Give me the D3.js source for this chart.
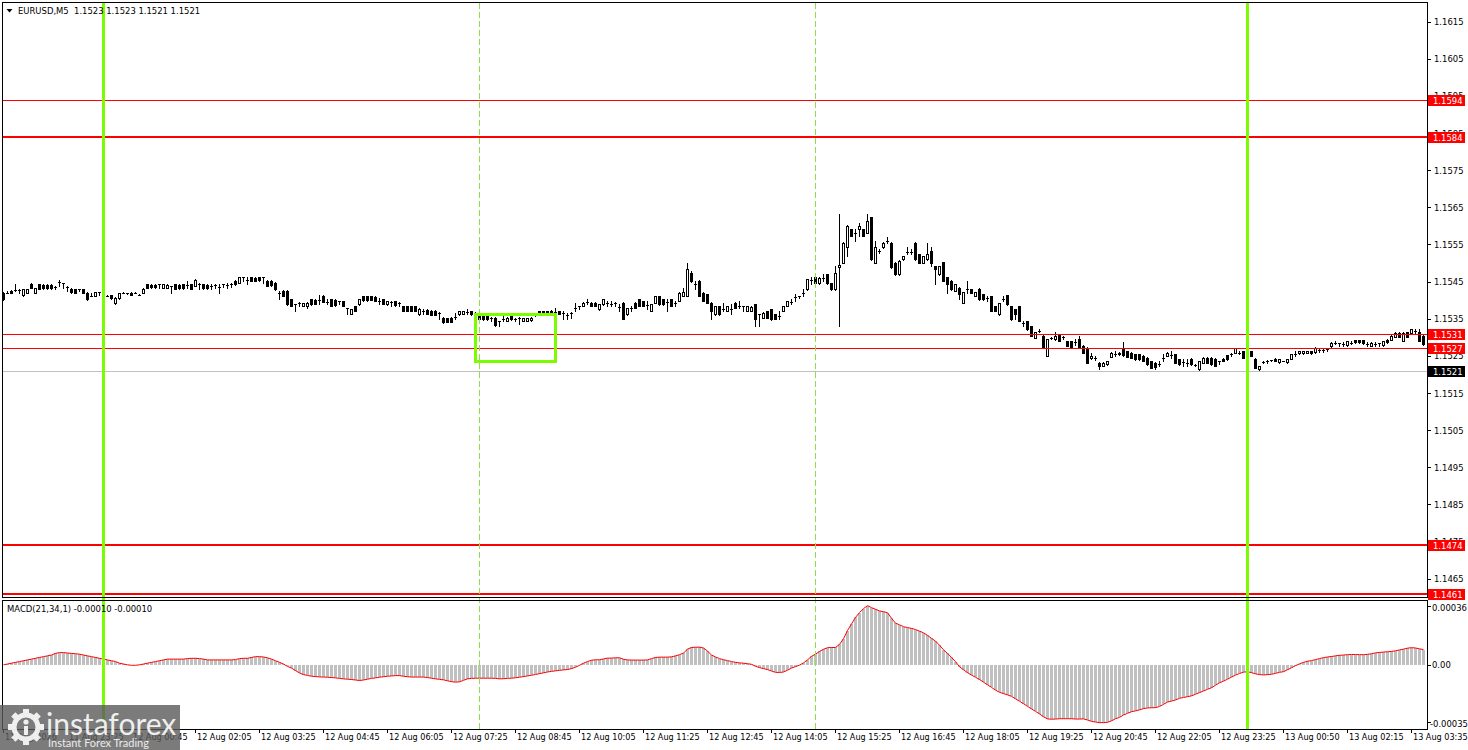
<!DOCTYPE html>
<html><head><meta charset="utf-8">
<script src="https://cdn.jsdelivr.net/npm/d3@7"></script>
<style>
html,body{margin:0;padding:0;background:#fff;overflow:hidden;}
svg{display:block;}
</style></head><body>
<svg id="chart" width="1468" height="750"></svg>
<script>
// ---------- DATA (EURUSD M5, bars 11 Aug 22:05 .. 13 Aug 03:50) ----------
const open = [
1.15420,1.15419,1.15425,1.15427,1.15428,1.15415,1.15420,1.15443,1.15420,1.15443,
1.15441,1.15442,1.15442,1.15435,1.15450,1.15445,1.15436,1.15431,1.15430,1.15429,
1.15429,1.15420,1.15410,1.15412,1.15422,1.15413,1.15412,1.15413,1.15392,1.15405,
1.15420,1.15418,1.15420,1.15420,1.15415,1.15419,1.15443,1.15442,1.15442,1.15443,
1.15434,1.15434,1.15438,1.15443,1.15442,1.15443,1.15440,1.15443,1.15438,1.15444,
1.15443,1.15442,1.15438,1.15442,1.15435,1.15443,1.15440,1.15444,1.15452,1.15447,
1.15461,1.15452,1.15461,1.15460,1.15461,1.15461,1.15452,1.15451,1.15447,1.15420,
1.15424,1.15425,1.15402,1.15389,1.15393,1.15385,1.15384,1.15402,1.15401,1.15400,
1.15412,1.15396,1.15402,1.15400,1.15398,1.15398,1.15379,1.15363,1.15384,1.15389,
1.15410,1.15410,1.15410,1.15409,1.15398,1.15402,1.15389,1.15396,1.15398,1.15393,
1.15384,1.15383,1.15384,1.15383,1.15362,1.15370,1.15373,1.15372,1.15372,1.15366,
1.15353,1.15352,1.15353,1.15355,1.15362,1.15363,1.15368,1.15371,1.15366,1.15366,
1.15357,1.15356,1.15353,1.15353,1.15344,1.15350,1.15345,1.15357,1.15350,1.15353,
1.15345,1.15345,1.15346,1.15362,1.15371,1.15370,1.15371,1.15371,1.15368,1.15371,
1.15365,1.15360,1.15366,1.15380,1.15384,1.15384,1.15395,1.15393,1.15393,1.15375,
1.15389,1.15392,1.15390,1.15393,1.15382,1.15393,1.15362,1.15378,1.15393,1.15402,
1.15398,1.15388,1.15371,1.15393,1.15411,1.15402,1.15395,1.15402,1.15393,1.15398,
1.15411,1.15411,1.15474,1.15444,1.15452,1.15420,1.15416,1.15393,1.15362,1.15384,
1.15376,1.15371,1.15375,1.15393,1.15385,1.15384,1.15371,1.15371,1.15389,1.15362,
1.15353,1.15371,1.15375,1.15362,1.15356,1.15371,1.15384,1.15396,1.15408,1.15411,
1.15420,1.15429,1.15455,1.15461,1.15445,1.15460,1.15470,1.15445,1.15429,1.15489,
1.15501,1.15542,1.15591,1.15580,1.15591,1.15591,1.15582,1.15623,1.15501,1.15532,
1.15542,1.15560,1.15555,1.15501,1.15470,1.15510,1.15530,1.15530,1.15555,1.15524,
1.15501,1.15510,1.15533,1.15492,1.15470,1.15503,1.15461,1.15452,1.15425,1.15434,
1.15393,1.15430,1.15429,1.15411,1.15431,1.15416,1.15405,1.15411,1.15384,1.15362,
1.15402,1.15413,1.15384,1.15375,1.15384,1.15339,1.15344,1.15330,1.15299,1.15317,
1.15304,1.15250,1.15299,1.15295,1.15308,1.15300,1.15290,1.15290,1.15288,1.15295,
1.15277,1.15272,1.15243,1.15245,1.15232,1.15223,1.15227,1.15248,1.15255,1.15254,
1.15269,1.15263,1.15259,1.15254,1.15254,1.15250,1.15245,1.15236,1.15232,1.15229,
1.15243,1.15250,1.15252,1.15254,1.15241,1.15234,1.15232,1.15242,1.15225,1.15214,
1.15232,1.15245,1.15245,1.15242,1.15236,1.15242,1.15251,1.15254,1.15259,1.15259,
1.15263,1.15241,1.15263,1.15242,1.15214,1.15233,1.15235,1.15238,1.15242,1.15233,
1.15236,1.15233,1.15242,1.15255,1.15257,1.15257,1.15259,1.15263,1.15260,1.15265,
1.15266,1.15268,1.15276,1.15285,1.15284,1.15281,1.15278,1.15285,1.15293,1.15293,
1.15292,1.15281,1.15277,1.15281,1.15284,1.15278,1.15294,1.15293,1.15302,1.15312,
1.15290,1.15314,1.15312,1.15316,1.15313,1.15304];
const high = [
1.15422,1.15425,1.15426,1.15443,1.15429,1.15431,1.15429,1.15445,1.15434,1.15444,
1.15443,1.15444,1.15443,1.15438,1.15453,1.15446,1.15438,1.15432,1.15431,1.15429,
1.15430,1.15421,1.15420,1.15422,1.15423,1.15422,1.15413,1.15414,1.15408,1.15420,
1.15421,1.15418,1.15421,1.15421,1.15416,1.15432,1.15444,1.15443,1.15444,1.15443,
1.15443,1.15443,1.15439,1.15444,1.15443,1.15444,1.15452,1.15444,1.15456,1.15446,
1.15444,1.15443,1.15443,1.15443,1.15443,1.15444,1.15445,1.15445,1.15453,1.15462,
1.15462,1.15461,1.15463,1.15462,1.15462,1.15462,1.15453,1.15453,1.15448,1.15425,
1.15426,1.15426,1.15403,1.15390,1.15394,1.15393,1.15394,1.15403,1.15403,1.15413,
1.15413,1.15402,1.15403,1.15402,1.15399,1.15399,1.15380,1.15376,1.15385,1.15402,
1.15412,1.15411,1.15412,1.15410,1.15407,1.15403,1.15398,1.15398,1.15399,1.15394,
1.15385,1.15385,1.15385,1.15384,1.15378,1.15375,1.15375,1.15374,1.15373,1.15367,
1.15354,1.15353,1.15354,1.15366,1.15371,1.15372,1.15375,1.15372,1.15367,1.15367,
1.15359,1.15358,1.15354,1.15354,1.15345,1.15357,1.15354,1.15358,1.15353,1.15354,
1.15353,1.15353,1.15354,1.15366,1.15372,1.15371,1.15372,1.15373,1.15380,1.15372,
1.15371,1.15366,1.15367,1.15393,1.15385,1.15394,1.15402,1.15394,1.15394,1.15390,
1.15403,1.15398,1.15398,1.15394,1.15389,1.15394,1.15380,1.15384,1.15394,1.15403,
1.15399,1.15398,1.15390,1.15412,1.15412,1.15403,1.15402,1.15403,1.15398,1.15421,
1.15434,1.15501,1.15479,1.15452,1.15453,1.15421,1.15417,1.15394,1.15385,1.15385,
1.15393,1.15385,1.15389,1.15394,1.15398,1.15385,1.15385,1.15383,1.15390,1.15363,
1.15367,1.15372,1.15376,1.15363,1.15371,1.15385,1.15399,1.15402,1.15416,1.15412,
1.15429,1.15457,1.15461,1.15462,1.15461,1.15470,1.15471,1.15446,1.15492,1.15632,
1.15556,1.15601,1.15592,1.15591,1.15609,1.15592,1.15632,1.15624,1.15560,1.15537,
1.15556,1.15571,1.15556,1.15502,1.15507,1.15520,1.15542,1.15537,1.15556,1.15525,
1.15520,1.15555,1.15542,1.15493,1.15493,1.15504,1.15462,1.15453,1.15444,1.15435,
1.15423,1.15452,1.15430,1.15423,1.15432,1.15417,1.15411,1.15412,1.15385,1.15393,
1.15411,1.15414,1.15385,1.15376,1.15385,1.15344,1.15345,1.15331,1.15314,1.15321,
1.15305,1.15296,1.15300,1.15313,1.15309,1.15304,1.15291,1.15291,1.15295,1.15304,
1.15278,1.15273,1.15259,1.15250,1.15233,1.15233,1.15237,1.15260,1.15263,1.15260,
1.15286,1.15264,1.15260,1.15255,1.15255,1.15251,1.15246,1.15237,1.15233,1.15236,
1.15254,1.15260,1.15263,1.15255,1.15242,1.15241,1.15242,1.15243,1.15227,1.15237,
1.15246,1.15246,1.15246,1.15243,1.15237,1.15243,1.15252,1.15259,1.15272,1.15263,
1.15264,1.15264,1.15264,1.15243,1.15224,1.15235,1.15238,1.15239,1.15243,1.15242,
1.15237,1.15242,1.15255,1.15263,1.15264,1.15264,1.15264,1.15264,1.15273,1.15269,
1.15272,1.15272,1.15286,1.15290,1.15285,1.15286,1.15291,1.15290,1.15294,1.15294,
1.15293,1.15286,1.15286,1.15286,1.15285,1.15291,1.15295,1.15305,1.15313,1.15313,
1.15313,1.15315,1.15322,1.15323,1.15321,1.15305];
const low = [
1.15401,1.15418,1.15419,1.15424,1.15419,1.15412,1.15419,1.15433,1.15418,1.15430,
1.15430,1.15431,1.15430,1.15429,1.15438,1.15434,1.15425,1.15419,1.15419,1.15425,
1.15419,1.15400,1.15410,1.15411,1.15415,1.15412,1.15411,1.15403,1.15390,1.15404,
1.15419,1.15416,1.15414,1.15419,1.15414,1.15418,1.15433,1.15433,1.15434,1.15434,
1.15433,1.15433,1.15420,1.15430,1.15431,1.15431,1.15434,1.15430,1.15437,1.15430,
1.15430,1.15431,1.15429,1.15434,1.15420,1.15436,1.15434,1.15435,1.15442,1.15446,
1.15452,1.15443,1.15451,1.15451,1.15451,1.15447,1.15438,1.15438,1.15428,1.15402,
1.15410,1.15388,1.15383,1.15371,1.15384,1.15384,1.15380,1.15388,1.15389,1.15389,
1.15394,1.15389,1.15384,1.15385,1.15389,1.15384,1.15362,1.15362,1.15370,1.15388,
1.15399,1.15399,1.15400,1.15398,1.15389,1.15389,1.15388,1.15384,1.15385,1.15384,
1.15370,1.15371,1.15370,1.15370,1.15361,1.15362,1.15362,1.15360,1.15359,1.15348,
1.15339,1.15340,1.15340,1.15348,1.15361,1.15362,1.15362,1.15361,1.15359,1.15348,
1.15346,1.15347,1.15344,1.15330,1.15330,1.15344,1.15344,1.15347,1.15344,1.15335,
1.15344,1.15344,1.15345,1.15357,1.15361,1.15361,1.15362,1.15361,1.15357,1.15362,
1.15348,1.15348,1.15353,1.15371,1.15375,1.15383,1.15389,1.15383,1.15384,1.15374,
1.15388,1.15384,1.15384,1.15384,1.15371,1.15348,1.15361,1.15371,1.15379,1.15384,
1.15384,1.15375,1.15370,1.15392,1.15388,1.15388,1.15371,1.15383,1.15384,1.15397,
1.15410,1.15410,1.15450,1.15429,1.15410,1.15397,1.15392,1.15348,1.15361,1.15361,
1.15371,1.15370,1.15362,1.15379,1.15380,1.15371,1.15370,1.15370,1.15330,1.15330,
1.15352,1.15352,1.15347,1.15348,1.15348,1.15370,1.15383,1.15389,1.15398,1.15407,
1.15411,1.15428,1.15443,1.15443,1.15444,1.15452,1.15443,1.15428,1.15428,1.15330,
1.15500,1.15519,1.15572,1.15560,1.15573,1.15572,1.15581,1.15509,1.15500,1.15528,
1.15541,1.15555,1.15487,1.15469,1.15469,1.15509,1.15524,1.15524,1.15509,1.15500,
1.15500,1.15509,1.15492,1.15443,1.15469,1.15451,1.15420,1.15428,1.15424,1.15402,
1.15392,1.15420,1.15419,1.15410,1.15401,1.15401,1.15398,1.15370,1.15370,1.15361,
1.15398,1.15388,1.15347,1.15348,1.15343,1.15330,1.15320,1.15303,1.15298,1.15313,
1.15271,1.15249,1.15295,1.15294,1.15289,1.15295,1.15276,1.15271,1.15280,1.15271,
1.15258,1.15231,1.15242,1.15240,1.15214,1.15222,1.15226,1.15247,1.15250,1.15253,
1.15250,1.15247,1.15244,1.15240,1.15240,1.15235,1.15226,1.15217,1.15214,1.15223,
1.15236,1.15249,1.15245,1.15231,1.15226,1.15223,1.15223,1.15226,1.15223,1.15213,
1.15231,1.15231,1.15226,1.15222,1.15227,1.15235,1.15240,1.15250,1.15258,1.15254,
1.15244,1.15240,1.15249,1.15217,1.15213,1.15232,1.15231,1.15237,1.15235,1.15232,
1.15235,1.15232,1.15241,1.15250,1.15256,1.15256,1.15258,1.15256,1.15259,1.15260,
1.15260,1.15263,1.15275,1.15281,1.15276,1.15276,1.15277,1.15281,1.15285,1.15285,
1.15283,1.15276,1.15276,1.15276,1.15276,1.15277,1.15285,1.15292,1.15301,1.15301,
1.15289,1.15301,1.15311,1.15312,1.15289,1.15280];
const close = [
1.15404,1.15419,1.15420,1.15428,1.15426,1.15429,1.15429,1.15434,1.15434,1.15431,
1.15432,1.15433,1.15432,1.15435,1.15450,1.15445,1.15435,1.15421,1.15420,1.15429,
1.15420,1.15402,1.15411,1.15421,1.15422,1.15420,1.15412,1.15405,1.15407,1.15420,
1.15420,1.15417,1.15415,1.15420,1.15415,1.15431,1.15434,1.15435,1.15435,1.15443,
1.15443,1.15442,1.15438,1.15431,1.15432,1.15432,1.15440,1.15431,1.15455,1.15443,
1.15432,1.15433,1.15438,1.15442,1.15435,1.15443,1.15440,1.15444,1.15443,1.15461,
1.15461,1.15453,1.15452,1.15452,1.15453,1.15461,1.15439,1.15440,1.15429,1.15420,
1.15411,1.15389,1.15384,1.15389,1.15393,1.15393,1.15393,1.15389,1.15390,1.15400,
1.15395,1.15396,1.15385,1.15386,1.15398,1.15385,1.15379,1.15375,1.15371,1.15402,
1.15400,1.15401,1.15401,1.15399,1.15398,1.15390,1.15398,1.15395,1.15386,1.15393,
1.15371,1.15372,1.15371,1.15372,1.15377,1.15370,1.15363,1.15361,1.15360,1.15366,
1.15340,1.15341,1.15342,1.15355,1.15370,1.15371,1.15368,1.15362,1.15366,1.15350,
1.15348,1.15349,1.15353,1.15332,1.15344,1.15350,1.15353,1.15348,1.15350,1.15353,
1.15352,1.15352,1.15353,1.15362,1.15362,1.15362,1.15363,1.15362,1.15368,1.15363,
1.15365,1.15360,1.15366,1.15380,1.15384,1.15393,1.15395,1.15384,1.15385,1.15389,
1.15402,1.15392,1.15390,1.15393,1.15382,1.15350,1.15379,1.15378,1.15380,1.15385,
1.15385,1.15388,1.15389,1.15411,1.15389,1.15389,1.15395,1.15384,1.15393,1.15420,
1.15422,1.15483,1.15452,1.15444,1.15411,1.15398,1.15393,1.15371,1.15384,1.15362,
1.15376,1.15384,1.15375,1.15380,1.15385,1.15384,1.15384,1.15382,1.15348,1.15362,
1.15366,1.15353,1.15348,1.15349,1.15356,1.15384,1.15398,1.15396,1.15408,1.15411,
1.15420,1.15456,1.15455,1.15445,1.15460,1.15460,1.15445,1.15429,1.15474,1.15494,
1.15555,1.15600,1.15573,1.15580,1.15600,1.15573,1.15614,1.15510,1.15542,1.15532,
1.15555,1.15560,1.15488,1.15470,1.15506,1.15519,1.15530,1.15530,1.15510,1.15501,
1.15519,1.15524,1.15501,1.15483,1.15492,1.15452,1.15443,1.15429,1.15443,1.15416,
1.15422,1.15430,1.15420,1.15422,1.15402,1.15402,1.15405,1.15371,1.15371,1.15392,
1.15402,1.15389,1.15348,1.15362,1.15344,1.15339,1.15321,1.15304,1.15313,1.15317,
1.15272,1.15295,1.15299,1.15304,1.15290,1.15300,1.15277,1.15272,1.15288,1.15272,
1.15259,1.15232,1.15250,1.15245,1.15223,1.15232,1.15236,1.15259,1.15255,1.15259,
1.15251,1.15248,1.15245,1.15241,1.15242,1.15236,1.15227,1.15218,1.15219,1.15229,
1.15243,1.15259,1.15252,1.15232,1.15227,1.15234,1.15232,1.15227,1.15225,1.15236,
1.15245,1.15232,1.15227,1.15223,1.15236,1.15236,1.15241,1.15254,1.15270,1.15259,
1.15245,1.15263,1.15250,1.15218,1.15223,1.15234,1.15235,1.15238,1.15236,1.15241,
1.15236,1.15241,1.15254,1.15255,1.15263,1.15263,1.15263,1.15257,1.15272,1.15265,
1.15266,1.15268,1.15285,1.15285,1.15284,1.15281,1.15290,1.15285,1.15286,1.15286,
1.15284,1.15281,1.15285,1.15281,1.15284,1.15290,1.15286,1.15304,1.15312,1.15302,
1.15312,1.15302,1.15321,1.15316,1.15290,1.15281];
// MACD(21,34,1) values in points (1 point = 0.00001)
const POINT = 0.00001;
const macdPoints = [
0,0.5,1,1.5,2,2.5,3,3.5,4,4.5,
5,5.5,6,7,7.5,7.5,7.2,7,6.8,6.5,
6,5.5,5,4.5,4,3.5,3,2.5,2,1,
0.5,0,-0.3,-0.3,0,0.5,1,1.5,2,2.5,
3,3.5,3.5,3.5,3.5,3.5,3.8,4,4,3.8,
3.5,3,3,3,3,3,3,3,3.2,3.8,
4,4,4.5,5,5,4.8,4.3,3.5,2.5,1.5,
0.5,-1,-2,-3.5,-5,-6,-6.5,-7,-7.2,-7.4,
-7.5,-7.6,-7.8,-8,-8.3,-8.6,-8.8,-9,-9.3,-9.6,
-9.3,-8.8,-8.3,-8,-7.6,-7.3,-7,-6.8,-6.6,-6.6,
-7,-7.3,-7.5,-7.5,-7.5,-7.5,-7.8,-8.2,-8.6,-8.9,
-9.2,-9.8,-10.3,-10.6,-10.4,-9.5,-8.6,-8.3,-8.2,-8.2,
-8.2,-8.2,-8.2,-8.3,-8.6,-8.5,-8.3,-8.2,-7.9,-7.6,
-7.2,-6.8,-6.4,-5.9,-5.4,-4.9,-4.4,-4,-3.7,-3.4,
-3.1,-2.9,-2.3,-1.5,-0.3,1,2,2.8,3.1,3.1,
3.6,4.1,4.1,4.3,4.3,3.4,3,2.9,2.9,2.9,
2.9,3,3.8,4.5,4.7,4.7,4.7,4.9,5.5,6.2,
7.2,9.6,10.6,10.8,10.8,10.3,8.4,6,4.8,3.8,
3.1,2.6,2,1.5,1.2,1,0.7,0.3,-0.9,-1.7,
-2.3,-2.9,-3.8,-4.6,-4.7,-4.4,-3.3,-2,-1.1,-0.2,
1.2,3,5.2,6.5,8.2,9.5,10.5,10.6,10.6,12.5,
16,21,25,29,32,34.4,36.2,35,34,33,
32.5,31.9,28.5,25.5,24.5,23.3,22.8,22.3,21.6,20.6,
19.6,18,16.2,14.5,12,9.2,7,4.5,2,-1.2,
-3,-4.8,-6.3,-7.6,-9,-10.6,-12.2,-13.8,-15.5,-16.8,
-17.6,-18.4,-19.3,-20.8,-22.3,-23.8,-25.4,-27,-28.5,-30,
-31.8,-33.1,-33.3,-33.2,-33,-33,-33,-33,-33.2,-33.2,
-33.1,-33.8,-34.6,-35,-35.4,-35.4,-35.2,-34.3,-33,-32.2,
-30.7,-29.7,-28.7,-28.2,-27.6,-26.8,-26.4,-26.3,-26.2,-25.5,
-24.2,-22.8,-22.2,-21.5,-20.5,-20,-19.5,-19,-18,-17,
-16,-15,-14,-12.5,-11,-10,-8.8,-7.5,-6.3,-5.3,
-4.5,-4.2,-4.8,-5.5,-6,-6.2,-6,-5.8,-5.2,-4.6,
-4.2,-3,-1.8,-0.5,0.6,1.5,2.2,2.6,3.2,3.8,
4.4,4.8,5.1,5.5,5.8,6,6.2,6.3,6.3,6.2,
6.2,6.4,6.8,7.3,7.6,7.8,8,8.2,8.6,9.1,
9.6,10.2,10.5,10.3,9.8,9.3];
const priceTicks = [1.1465,1.1475,1.1485,1.1495,1.1505,1.1515,1.1525,1.1535,1.1545,1.1555,1.1565,1.1575,1.1585,1.1595,1.1605,1.1615];
const timeTickBars = [0,16,32,48,64,80,96,112,128,144,160,176,192,208,224,240,256,272,288,304,320,336,352];
const timeLabels = ["11 Aug 2026","11 Aug 23:25","12 Aug 00:45","12 Aug 02:05","12 Aug 03:25","12 Aug 04:45","12 Aug 06:05","12 Aug 07:25","12 Aug 08:45","12 Aug 10:05","12 Aug 11:25","12 Aug 12:45","12 Aug 14:05","12 Aug 15:25","12 Aug 16:45","12 Aug 18:05","12 Aug 19:25","12 Aug 20:45","12 Aug 22:05","12 Aug 23:25","13 Aug 00:50","13 Aug 02:15","13 Aug 03:35"];
const levelPrices = [1.1594,1.1584,1.1531,1.1527,1.1474,1.1461];
const currentPrice = 1.1521;
const greenLineBars = [25,311];
const dashLineBars = [119,203];
const boxBars = [118,138];
const boxPrices = [1.15362,1.15234];
const macdTicks = [0.00036,0,-0.00035];
const macdTickLabels = ["0.00036","0.00","-0.00035"];
const headerText = "EURUSD,M5  1.1523 1.1523 1.1521 1.1521";
const macdHeaderText = "MACD(21,34,1) -0.00010 -0.00010";

// ---------- DRAWING ----------
const FONT = '"DejaVu Sans Condensed","Liberation Sans",Arial,sans-serif';
const FS = 9.4;
const svg = d3.select("#chart");
const N = open.length;
const x = d3.scaleLinear().domain([0, 355]).range([3, 1423]);
const y = d3.scaleLinear().domain([1.1465, 1.1615]).range([578.7, 21.6]);
const ym = d3.scaleLinear().domain([-0.00035, 0.00036]).range([722, 606]);
const macd = macdPoints.map(v => v * POINT);

const defs = svg.append("defs");
defs.append("clipPath").attr("id","cm").append("rect").attr("x",3).attr("y",3).attr("width",1424).attr("height",594);
defs.append("clipPath").attr("id","cd").append("rect").attr("x",3).attr("y",601).attr("width",1424).attr("height",128);

svg.append("rect").attr("width",1468).attr("height",750).attr("fill","#fff");

// candles
const bars = d3.range(N).map(i => ({i, o: open[i], h: high[i], l: low[i], c: close[i]}));
const gMain = svg.append("g").attr("clip-path","url(#cm)").attr("shape-rendering","crispEdges");
const R = v => Math.round(y(v));
gMain.selectAll("rect.wick").data(bars).join("rect").attr("class","wick")
  .attr("x", d => x(d.i)).attr("width", 1)
  .attr("y", d => R(d.h)).attr("height", d => Math.max(1, R(d.l) - R(d.h) + 1))
  .attr("fill", "#000");
gMain.selectAll("rect.body").data(bars).join("rect").attr("class","body")
  .attr("x", d => x(d.i) - 1).attr("width", 3)
  .attr("y", d => Math.min(R(d.o), R(d.c)))
  .attr("height", d => Math.max(1, Math.abs(R(d.o) - R(d.c)) + (Math.abs(d.o-d.c) < 0.000015 ? 0 : 1)))
  .attr("fill", "#000");
gMain.selectAll("rect.hollow").data(bars.filter(d => d.c - d.o >= 0.000015 && R(d.o) - R(d.c) >= 2)).join("rect").attr("class","hollow")
  .attr("x", d => x(d.i)).attr("width", 1)
  .attr("y", d => R(d.c) + 1).attr("height", d => R(d.o) - R(d.c) - 1)
  .attr("fill", "#fff");

// horizontal levels
const thick = [false, true, false, false, true, true];
svg.append("g").attr("shape-rendering","crispEdges").selectAll("line").data(levelPrices).join("line")
  .attr("x1", 3).attr("x2", 1427)
  .attr("y1", (d,i) => thick[i] ? R(d) : R(d) + 0.5)
  .attr("y2", (d,i) => thick[i] ? R(d) : R(d) + 0.5)
  .attr("stroke", "#ff0000").attr("stroke-width", (d,i) => thick[i] ? 2 : 1);
svg.append("line").attr("shape-rendering","crispEdges")
  .attr("x1", 3).attr("x2", 1427).attr("y1", R(currentPrice)+0.5).attr("y2", R(currentPrice)+0.5)
  .attr("stroke", "#c0c0c0");

// MACD histogram + line
const gM = svg.append("g").attr("clip-path","url(#cd)");
const z0 = Math.round(ym(0));
gM.append("g").attr("shape-rendering","crispEdges").selectAll("rect").data(macd).join("rect")
  .attr("x", (d,i) => x(i) - 1).attr("width", 3)
  .attr("y", d => Math.min(z0, Math.round(ym(d))))
  .attr("height", d => Math.abs(Math.round(ym(d)) - z0))
  .attr("fill", "#c0c0c0");
gM.append("path").datum(macd)
  .attr("d", d3.line().x((d,i) => x(i) + 0.5).y(d => ym(d)))
  .attr("fill","none").attr("stroke","#ff0000").attr("stroke-width",1);

// vertical lines
svg.append("g").attr("shape-rendering","crispEdges").selectAll("line").data(dashLineBars).join("line")
  .attr("x1", d => x(d) + 0.5).attr("x2", d => x(d) + 0.5).attr("y1", 3).attr("y2", 729)
  .attr("stroke", "#8fe04c").attr("stroke-dasharray", "6,3");
svg.append("g").attr("shape-rendering","crispEdges").selectAll("rect").data(greenLineBars).join("rect")
  .attr("x", d => x(d) - 1).attr("width", 3).attr("y", 3).attr("height", 726)
  .attr("fill", "#7cfc00");

// green box
svg.append("rect").attr("shape-rendering","crispEdges")
  .attr("x", x(boxBars[0]) + 0.5).attr("y", y(boxPrices[0]))
  .attr("width", x(boxBars[1]) - x(boxBars[0])).attr("height", y(boxPrices[1]) - y(boxPrices[0]))
  .attr("fill","none").attr("stroke","#7cfc00").attr("stroke-width",3);

// frames
const fr = svg.append("g").attr("shape-rendering","crispEdges").attr("fill","none").attr("stroke","#000");
fr.append("rect").attr("x",2.5).attr("y",2.5).attr("width",1425).attr("height",595);
fr.append("rect").attr("x",2.5).attr("y",600.5).attr("width",1425).attr("height",129);

// axes
function styleAxis(g){ g.select(".domain").remove(); g.attr("font-family",FONT).attr("font-size",FS); g.selectAll("line").attr("shape-rendering","crispEdges"); }
svg.append("g").attr("transform","translate(1427,0)")
  .call(d3.axisRight(y).tickValues(priceTicks).tickSize(4).tickFormat(d3.format(".4f")))
  .call(styleAxis);
svg.append("g").attr("transform","translate(1427,0)")
  .call(d3.axisRight(ym).tickValues(macdTicks).tickSize(4).tickFormat((d,i) => macdTickLabels[i]))
  .call(styleAxis)
  .call(g => g.selectAll("text").attr("x", (d,i) => i === 2 ? 3 : 5).attr("y", (d,i) => i === 1 ? 0 : 1.5));
svg.append("g").attr("transform","translate(0,729)")
  .call(d3.axisBottom(x).tickValues(timeTickBars).tickSize(4).tickFormat((d,i) => timeLabels[i]))
  .call(styleAxis)
  .attr("font-size", 9.0)
  .call(g => g.selectAll("text").attr("text-anchor","start").attr("x", 1.5).attr("y", 5).attr("dy","0.71em"));

// price labels
const lab = svg.append("g").attr("font-family",FONT).attr("font-size",FS);
const labs = levelPrices.map(p => ({p, bg:"#ff0000"})).concat([{p: currentPrice, bg:"#000"}]);
lab.selectAll("rect").data(labs).join("rect").attr("shape-rendering","crispEdges")
  .attr("x",1428).attr("width",37).attr("y", d => R(d.p) - 5).attr("height",11).attr("fill", d => d.bg);
lab.selectAll("text").data(labs).join("text")
  .attr("x",1433).attr("y", d => R(d.p) + 0.5).attr("dy","0.35em").attr("fill","#fff")
  .text(d => d3.format(".4f")(d.p));

// headers
svg.append("path").attr("d","M6.5,9 L12.5,9 L9.5,12.5 Z").attr("fill","#000");
svg.append("text").attr("x",18).attr("y",14).attr("font-family",FONT).attr("font-size",FS)
  .style("white-space","pre").text(headerText);
svg.append("text").attr("x",7).attr("y",612).attr("font-family",FONT).attr("font-size",FS)
  .text(macdHeaderText);

// watermark logo
const logo = svg.append("g");
logo.append("rect").attr("x",0).attr("y",705).attr("width",180).attr("height",45).attr("fill","#5a5a5a").attr("opacity",0.8);
const gear = logo.append("g").attr("transform","translate(26,727)").attr("fill","#fff").attr("opacity",0.88);
gear.selectAll("rect").data(d3.range(8)).join("rect")
  .attr("x",-3).attr("y",-18).attr("width",6).attr("height",8)
  .attr("transform", d => `rotate(${d*45})`);
gear.append("circle").attr("r",12).attr("fill","none").attr("stroke","#fff").attr("stroke-width",5);
gear.append("circle").attr("cx",0).attr("cy",-5).attr("r",2.6);
gear.append("rect").attr("x",-2).attr("y",-1).attr("width",4).attr("height",9);
logo.append("text").attr("x",46).attr("y",735).attr("font-family","Lato, 'Open Sans', sans-serif")
  .attr("font-size",30).attr("fill","#fff").attr("opacity",0.88).text("instaforex");
logo.append("text").attr("x",48).attr("y",747).attr("font-family","Lato, 'Open Sans', sans-serif")
  .attr("font-size",11).attr("fill","#fff").attr("opacity",0.85).text("Instant Forex Trading");
</script>
</body></html>
